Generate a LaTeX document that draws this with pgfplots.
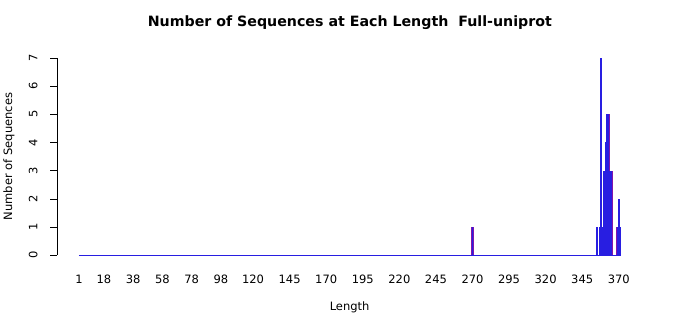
\documentclass[border=0pt]{standalone}
\usepackage{pgfplots}
\pgfplotsset{compat=1.18}
\usepackage{fontspec}
\setmainfont{DejaVu Sans}
\definecolor{barblue}{RGB}{40,30,225}
\definecolor{barpurple}{RGB}{130,20,170}
\begin{document}
\fontsize{11.5}{13}\selectfont
\begin{tikzpicture}
\path[use as bounding box] (-57.3pt,-52pt) rectangle (642.7pt,263pt);
\begin{axis}[
  at={(0pt,0pt)}, anchor=south west,
  scale only axis, width=583.4pt, height=213pt,
  xmin=-13.83, xmax=385, ymin=-0.28, ymax=7.28,
  clip=false,
  axis line style={draw=none},
  xtick={1,18,38,58,78,98,120,145,170,195,220,245,270,295,320,345,370},
  xtick style={draw=none},
  xtick pos=bottom,
  ytick={0,1,...,7},
  ytick pos=left,
  tick align=outside,
  major tick length=7pt,
  ytick style={black, line width=0.5pt},
  /pgf/number format/assume math mode=true,
  xticklabel style={anchor=base, yshift=-13pt, font=\fontsize{11.5}{13}\selectfont},
  yticklabel style={xshift=-13pt, rotate=90, anchor=base, font=\fontsize{11.5}{13}\selectfont},
  xlabel={Length},
  xlabel style={at={(axis description cs:0.501,-0.225)}, anchor=base},
  ylabel={Number of Sequences},
  ylabel style={at={(axis description cs:-0.083,0.5)}, anchor=center},
  title={\bfseries Number of Sequences at Each Length\ \ Full-uniprot},
  title style={at={(axis description cs:0.5014,1.0798)}, anchor=base, font=\fontsize{14.2}{16}\selectfont},
]
\draw[black, line width=0.5pt] (axis cs:-13.83,0) -- (axis cs:-13.83,7);
\addplot[barblue, line width=0.9pt] coordinates {(1,0) (371.3,0)};
\addplot[ycomb, barpurple, line width=2.1pt] coordinates {
(270,1) (355,1) (357,1) (358,7) (359,1) (360,3) (361,4) (362,5) (363,5)
(364,3) (365,3) (369,1) (370,2) (371,1)};
\addplot[ycomb, barblue, line width=1.5pt] coordinates {
(270,1) (355,1) (357,1) (358,7) (359,1) (360,3) (361,4) (362,5) (363,5)
(364,3) (365,3) (369,1) (370,2) (371,1)};
\end{axis}
\end{tikzpicture}
\end{document}
